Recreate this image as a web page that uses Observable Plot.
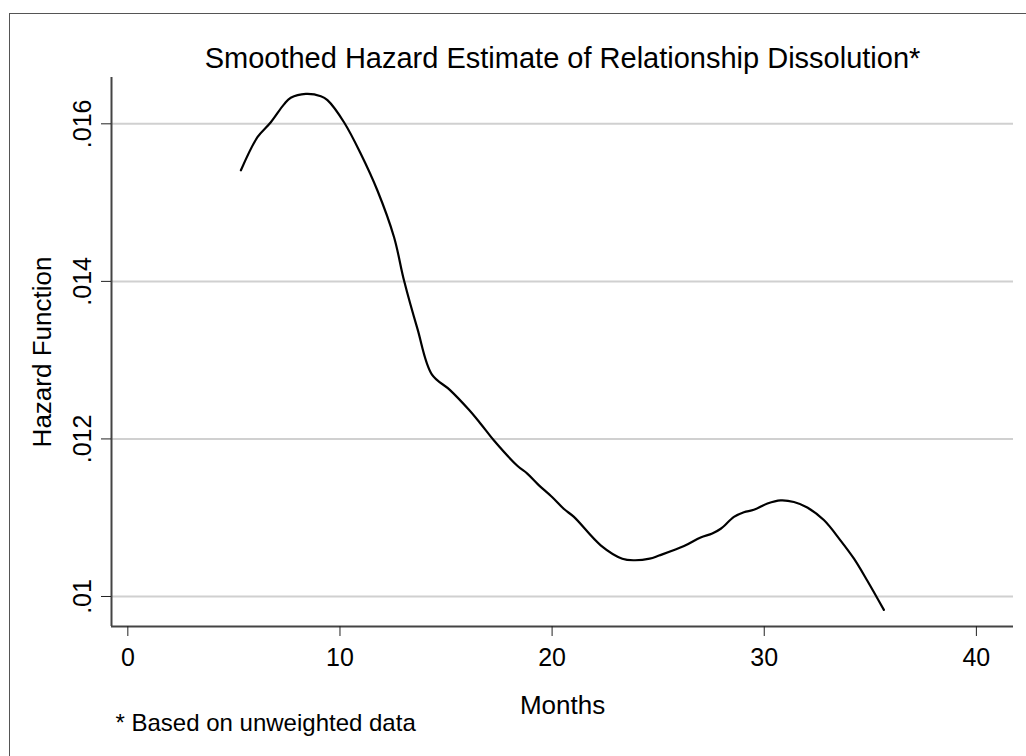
<!DOCTYPE html>
<html>
<head>
<meta charset="utf-8">
<script src="https://cdn.jsdelivr.net/npm/d3@7"></script>
<script src="https://cdn.jsdelivr.net/npm/@observablehq/plot@0.6"></script>
<style>
  html, body { margin: 0; padding: 0; background: #fff; }
  #wrap { position: relative; width: 1026px; height: 756px; overflow: hidden; }
  #border { position: absolute; left: 9px; top: 13px; width: 1100px; height: 1000px;
            border-left: 1.5px solid #555; border-top: 1.5px solid #555; pointer-events: none; }
  #chart { position: absolute; left: 0; top: 0; }
</style>
</head>
<body>
<div id="wrap"><div id="chart"></div><div id="border"></div></div>
<script>
// Months (x) and smoothed hazard (y)
const months = [5.33, 6.11, 6.74, 7.37, 7.68, 8.39, 9.1, 9.41, 10.19, 10.98, 11.77, 12.55, 13.02, 13.65,
  14.33, 15.19, 16.08, 16.64, 17.26, 18.36, 18.83, 19.31, 20.01, 20.56, 21.03, 22.29, 23.31, 23.86,
  24.6, 25.04, 26.22, 27.0, 27.55, 27.95, 28.57, 29.04, 29.51, 30.15, 30.77, 31.4, 32.03, 32.81,
  33.6, 34.23, 34.86, 35.64];
const hazard = [0.01541, 0.01583, 0.01602, 0.01625, 0.01633, 0.01638, 0.01635, 0.01630, 0.01602, 0.01562,
  0.01515, 0.01456, 0.01401, 0.01340, 0.01282, 0.01262, 0.01237, 0.01219, 0.01198, 0.01166, 0.01156,
  0.01143, 0.01126, 0.01111, 0.01101, 0.01065, 0.01048, 0.01046, 0.01048, 0.01052, 0.01064, 0.01075,
  0.01080, 0.01086, 0.01101, 0.01107, 0.01110, 0.01118, 0.01122, 0.01120, 0.01113, 0.01097, 0.01071,
  0.01048, 0.01020, 0.00983];
const xTicks = [0, 10, 20, 30, 40];
const yTicks = [0.01, 0.012, 0.014, 0.016];
const titleText = "Smoothed Hazard Estimate of Relationship Dissolution*";
const xLabel = "Months";
const yLabel = "Hazard Function";
const noteText = "* Based on unweighted data";

const data = months.map((m, i) => ({month: m, hazard: hazard[i]}));
const fmt = d => String(d).replace(/^0/, "");
const font = "Liberation Sans, Arial, Helvetica, sans-serif";

const chart = Plot.plot({
  width: 1026,
  height: 756,
  marginLeft: 111,
  marginTop: 77,
  marginRight: 13,
  marginBottom: 130,
  style: {fontFamily: font, background: "transparent", color: "#000"},
  x: {domain: [-0.77, 41.75]},
  y: {domain: [0.009619, 0.016588]},
  marks: [
    Plot.gridY(yTicks, {stroke: "#d0d0d0", strokeOpacity: 1, strokeWidth: 2}),
    Plot.ruleY([0.009619], {stroke: "#444", strokeWidth: 2}),
    Plot.ruleX([-0.77], {stroke: "#444", strokeWidth: 2}),
    Plot.axisX({ticks: xTicks, tickSize: 10, tickPadding: 12, fontSize: 25, label: null, stroke: "#222", tickFormat: d => String(d)}),
    Plot.axisY({ticks: yTicks, tickSize: 10, label: null, stroke: "#222", tickFormat: () => ""}),
    Plot.text(yTicks, {y: d => d, text: fmt, frameAnchor: "left", rotate: -90, textAnchor: "middle",
      lineAnchor: "bottom", dx: -21, fontSize: 25, fill: "#000"}),
    Plot.line(data, {x: "month", y: "hazard", stroke: "#000", strokeWidth: 2.2, curve: "catmull-rom"}),
    Plot.text([titleText], {frameAnchor: "top", lineAnchor: "bottom", dy: -10, fontSize: 29, fill: "#000"}),
    Plot.text([xLabel], {frameAnchor: "bottom", lineAnchor: "bottom", dy: 87, fontSize: 26, fill: "#000"}),
    Plot.text([yLabel], {frameAnchor: "left", rotate: -90, textAnchor: "middle", lineAnchor: "bottom",
      dx: -61, fontSize: 26, fill: "#000"}),
    Plot.text([noteText], {frameAnchor: "bottom-left", textAnchor: "start", lineAnchor: "bottom",
      dx: 4, dy: 104, fontSize: 24, fill: "#000"})
  ]
});
document.getElementById("chart").appendChild(chart);
</script>
</body>
</html>
